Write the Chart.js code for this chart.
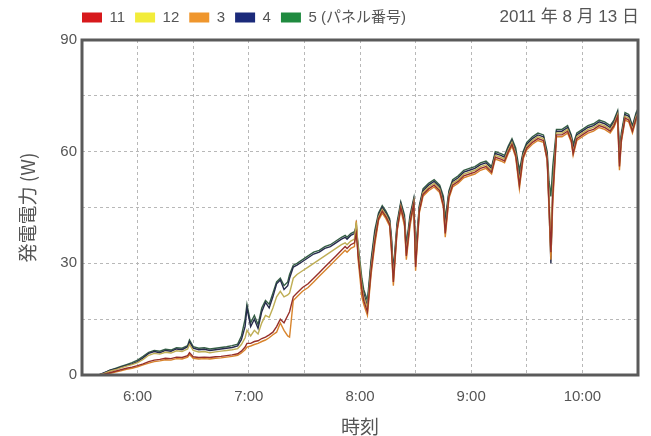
<!DOCTYPE html>
<html>
<head>
<meta charset="utf-8">
<script src="https://cdn.jsdelivr.net/npm/chart.js@4.4.1/dist/chart.umd.min.js"></script>
<style>
  html, body { margin: 0; padding: 0; background: #fff; }
</style>
</head>
<body>
<canvas id="powerChart" width="651" height="436"></canvas>
<script>
// time of day in minutes after midnight
const times = [
  339, 342, 345, 348, 351, 354, 357, 360, 363, 366,
  369, 372, 375, 378, 381, 384, 387, 388, 390, 393,
  396, 399, 402, 405, 408, 411, 414, 416, 418, 419,
  421, 423, 425, 427, 429, 431, 433, 435, 437, 439,
  441, 442, 444, 446, 449, 452, 455, 458, 461, 464,
  467, 470, 472, 473, 475, 477, 478, 479, 481, 482,
  484, 486, 488, 490, 492, 494, 496, 497, 498, 500,
  502, 504, 505, 507, 509, 510, 512, 514, 517, 520,
  523, 525, 526, 528, 530, 533, 536, 539, 542, 545,
  548, 551, 553, 556, 558, 560, 562, 564, 566, 568,
  570, 573, 576, 579, 581, 582, 583, 584, 586, 589,
  592, 594, 595, 597, 600, 603, 606, 609, 612, 615,
  617, 619, 620, 621, 623, 625, 627, 629, 630
];

// panel 11
const panel11 = [
  0, 0.2, 0.6, 1.0, 1.4, 1.8, 2.1, 2.5, 3.0, 3.6,
  4.0, 4.2, 4.5, 4.4, 4.8, 4.7, 5.2, 6.0, 4.9, 4.7,
  4.8, 4.7, 4.9, 5.0, 5.2, 5.4, 5.7, 6.4, 7.5, 8.5,
  8.5, 9, 9.2, 9.8, 10.2, 10.8, 11.5, 13, 15, 14,
  16, 17, 21, 22, 23.5, 24.5, 26, 27.5, 29, 30.5,
  32, 33.5, 34.5, 34, 35, 35.5, 38, 32, 23, 20,
  17, 28, 36, 42, 44, 42.5, 40.5, 34, 25, 39,
  45, 41, 32, 41, 46, 29, 44, 48.5, 50, 51,
  49.5, 45.5, 38, 48, 51, 52, 53.5, 54, 54.5, 55.5,
  56, 54.5, 58.5, 58, 57.5, 60, 62, 59, 51, 58.5,
  61, 62.5, 63.5, 63, 58, 46, 33, 48, 64.5, 64.5,
  65.5, 63, 59.5, 63.5, 64.5, 65.5, 66, 67, 66.5, 65.5,
  67, 69.5, 56, 63, 69, 68.5, 65.5, 69, 70
];

// panel 12
const panel12 = [
  0, 0.4, 1.0, 1.4, 1.9, 2.4, 2.8, 3.3, 4.2, 5.3,
  5.8, 5.6, 6.1, 5.9, 6.5, 6.3, 7.0, 8.2, 6.6, 6.2,
  6.3, 6.0, 6.2, 6.4, 6.6, 6.8, 7.1, 8.2, 10, 12,
  10.5, 12, 11, 14, 16, 15.5, 18, 21, 22.5, 21,
  21.5, 22, 26, 27, 28, 29, 30, 31, 32, 33,
  34, 35, 35.5, 35, 36, 36.5, 41, 34, 24, 21,
  18, 29, 37, 42.5, 44.5, 43, 41, 35, 26, 39.5,
  45.5, 41.5, 33, 41.5, 46.5, 30, 44.5, 49, 50.5, 51.5,
  50, 46, 39, 48.5, 51.5, 52.5, 54, 54.5, 55, 56,
  56.5, 55, 59, 58.5, 58, 60.5, 62.5, 59.5, 52, 59,
  61.5, 63, 64, 63.5, 58.5, 48, 36, 50, 65, 65,
  66, 63.5, 60, 64, 65, 66, 66.5, 67.5, 67, 66,
  67.5, 70, 57, 63.5, 69.5, 69, 66, 69.5, 70.5
];

// panel 3
const panel3 = [
  0, 0.1, 0.4, 0.8, 1.1, 1.5, 1.8, 2.2, 2.7, 3.2,
  3.6, 3.8, 4.1, 4.0, 4.4, 4.3, 4.8, 5.5, 4.5, 4.3,
  4.4, 4.3, 4.5, 4.6, 4.8, 5.0, 5.3, 5.9, 6.8, 7.5,
  7.8, 8.2, 8.5, 9.0, 9.4, 10, 10.8, 11.5, 14, 12,
  10.5, 10.2, 20, 21, 22.5, 23.5, 25, 26.5, 28, 29.5,
  31, 32.5, 33.5, 33, 34, 34.5, 41.5, 31, 21, 19,
  16, 27, 35, 41.5, 43.5, 42, 40, 33, 24, 38.5,
  44.5, 40, 31, 40, 45.5, 28, 43.5, 48, 49.5, 50.5,
  49, 45, 37, 47.5, 50.5, 51.5, 53, 53.5, 54, 55,
  55.5, 54, 58, 57.5, 57, 59.5, 61.5, 58.5, 50, 58,
  60.5, 62, 63, 62.5, 57.5, 44, 31, 46, 64, 64,
  65, 62.5, 59, 63, 64, 65, 65.5, 66.5, 66, 65,
  66.5, 69, 55, 62.5, 68.5, 68, 65, 68.5, 69.5
];

// panel 4
const panel4 = [
  0, 0.6, 1.2, 1.6, 2.1, 2.6, 3.0, 3.6, 4.6, 5.8,
  6.3, 6.0, 6.6, 6.4, 7.0, 6.8, 7.6, 8.9, 7.2, 6.8,
  6.9, 6.6, 6.8, 7.0, 7.2, 7.4, 7.8, 9.5, 13, 18,
  13, 15, 12.5, 17, 19.5, 18, 21, 24.5, 25.5, 23,
  24, 26, 29, 29.5, 30.5, 31.5, 32.5, 33, 34, 34.5,
  35.5, 36.5, 37, 36.5, 37.5, 38, 40.5, 33, 24, 22,
  18.5, 30, 38, 43, 45, 43.5, 41.5, 36, 27, 40,
  46, 42, 34, 42, 47, 31, 45, 49.5, 51, 52,
  50.5, 47, 40, 49, 52, 53, 54.5, 55, 55.5, 56.5,
  57, 55.5, 59.5, 59, 58.5, 61, 63, 60, 53, 59.5,
  62, 63.5, 64.5, 64, 59, 45, 30, 50, 65.5, 65.5,
  66.5, 64, 61, 64.5, 65.5, 66.5, 67, 68, 67.5, 66.5,
  68, 70.5, 58, 64, 70, 69.5, 66.5, 70, 71
];

// panel 5
const panel5 = [
  0, 0.5, 1.3, 1.8, 2.3, 2.8, 3.3, 4.0, 5.0, 6.1,
  6.6, 6.4, 6.9, 6.7, 7.3, 7.2, 7.9, 9.4, 7.6, 7.2,
  7.3, 7.0, 7.2, 7.4, 7.6, 7.9, 8.3, 10.5, 15, 19,
  14, 16, 13.5, 18, 20, 19, 22, 25, 26, 24,
  25, 27, 29.5, 30, 31, 32, 33, 33.5, 34.5, 35,
  36, 37, 37.5, 37, 38, 38.5, 39.5, 35, 26, 23,
  20, 31, 39, 43.5, 45.5, 44, 42, 37, 28, 41,
  46.5, 43, 35, 43, 47.5, 33, 45.5, 50, 51.5, 52.5,
  51, 48, 42, 49.5, 52.5, 53.5, 55, 55.5, 56, 57,
  57.5, 56, 60, 59.5, 59, 61.5, 63.5, 61, 55, 60,
  62.5, 64, 65, 64.5, 60, 52, 48, 56, 66, 66,
  67, 64.5, 62, 65, 66, 67, 67.5, 68.5, 68, 67,
  68.5, 71, 60, 65, 70.5, 70, 67, 70.5, 71.5
];

const seriesNames = ['11', '12', '3', '4', '5 (パネル番号)'];
const seriesValues = [panel11, panel12, panel3, panel4, panel5];
const lineColors = ['#96302a', '#bfae55', '#d8842c', '#272b4c', '#355f45'];
const legendColors = ['#d7191c', '#f2ec3a', '#ef962d', '#1b2a7a', '#1f8a3f'];

const xTickValues = [360, 420, 480, 540, 600];
const xTickLabels = ['6:00', '7:00', '8:00', '9:00', '10:00'];
const yTickValues = [0, 30, 60, 90];
const dateText = '2011 年 8 月 13 日';

const datasets = seriesValues.map((vals, i) => ({
    label: seriesNames[i],
    data: times.map((t, j) => ({ x: t, y: vals[j] })),
    borderColor: lineColors[i],
    backgroundColor: legendColors[i],
    borderWidth: 1.4,
    pointRadius: 0,
    tension: 0,
}));

// frame round the plot, legend shift and the date on the right
const framePlugin = {
    id: 'frame',
    afterLayout(chart) {
        const lg = chart.legend;
        lg.left = chart.chartArea.left - lg.options.labels.padding;
        lg.top = 0;
    },
    afterDatasetsDraw(chart) {
        const { ctx, chartArea: a } = chart;
        ctx.save();
        ctx.strokeStyle = '#5a5a5a';
        ctx.lineWidth = 3;
        ctx.strokeRect(a.left, a.top, a.right - a.left, a.bottom - a.top);
        ctx.restore();
    },
    afterDraw(chart) {
        const ctx = chart.ctx;
        ctx.save();
        ctx.font = '17px "Liberation Sans", "Noto Sans CJK JP", sans-serif';
        ctx.fillStyle = '#555';
        ctx.textAlign = 'right';
        ctx.textBaseline = 'middle';
        ctx.fillText(dateText, chart.chartArea.right + 1, 17);
        ctx.restore();
    }
};

const gridStyle = {
    color: '#b8b8b8',
    lineWidth: 1,
    drawTicks: false,
};

new Chart(document.getElementById('powerChart'), {
    type: 'line',
    data: { datasets: datasets },
    options: {
        responsive: false,
        animation: false,
        devicePixelRatio: 1,
        layout: { padding: { top: 5, right: 3, left: 0, bottom: 0 } },
        plugins: {
            legend: {
                position: 'top',
                align: 'start',
                labels: {
                    boxWidth: 20,
                    boxHeight: 10,
                    padding: 10,
                    color: '#555',
                    font: { family: '"Liberation Sans", "Noto Sans CJK JP", sans-serif', size: 15 },
                    generateLabels: chart => chart.data.datasets.map((ds, i) => ({
                        text: seriesNames[i],
                        fillStyle: legendColors[i],
                        strokeStyle: legendColors[i],
                        lineWidth: 0,
                        fontColor: '#555',
                        datasetIndex: i,
                        hidden: false,
                    })),
                },
            },
            tooltip: { enabled: false },
        },
        scales: {
            x: {
                type: 'linear',
                min: 330,
                max: 630,
                afterFit: s => { s.height = 61; },
                ticks: {
                    stepSize: 30,
                    padding: 13,
                    color: '#555',
                    maxRotation: 0,
                    autoSkip: false,
                    font: { family: '"Liberation Sans", sans-serif', size: 15 },
                    callback: v => {
                        const k = xTickValues.indexOf(v);
                        return k >= 0 ? xTickLabels[k] : '';
                    },
                },
                grid: gridStyle,
                border: { display: false, dash: [3, 3] },
                title: {
                    display: true,
                    text: '時刻',
                    color: '#555',
                    padding: { top: 0, bottom: 0 },
                    font: { family: '"Noto Sans CJK JP", sans-serif', size: 19, lineHeight: 1 },
                },
            },
            y: {
                min: 0,
                max: 90,
                afterFit: s => { s.width = 82; },
                ticks: {
                    stepSize: 15,
                    padding: 5,
                    color: '#555',
                    autoSkip: false,
                    font: { family: '"Liberation Sans", sans-serif', size: 15 },
                    callback: v => (yTickValues.includes(v) ? String(v) : ''),
                },
                grid: gridStyle,
                border: { display: false, dash: [3, 3] },
                title: {
                    display: true,
                    text: '発電電力 (W)',
                    color: '#555',
                    padding: { top: 16, bottom: 0 },
                    font: { family: '"Noto Sans CJK JP", sans-serif', size: 19 },
                },
            },
        },
    },
    plugins: [framePlugin],
});
</script>
</body>
</html>
